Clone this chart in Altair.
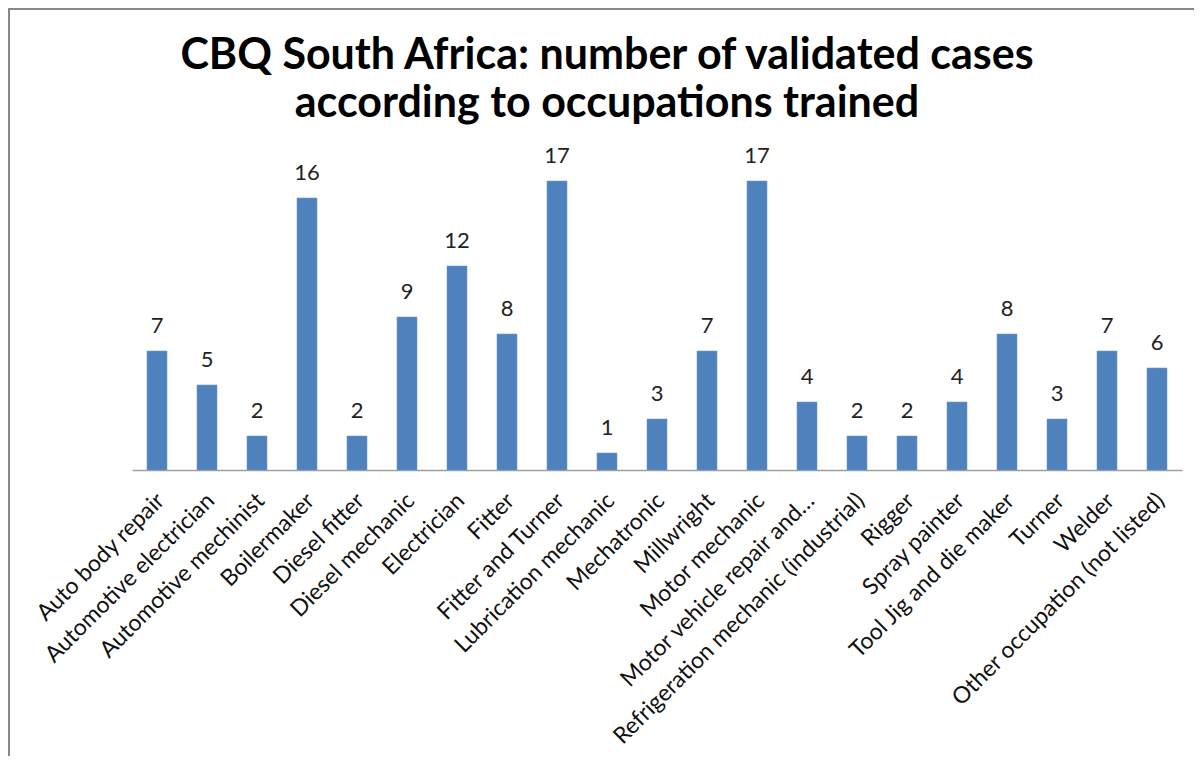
import altair as alt
import pandas as pd

occupations = [
    "Auto body repair", "Automotive electrician", "Automotive mechinist",
    "Boilermaker", "Diesel fitter", "Diesel mechanic", "Electrician", "Fitter",
    "Fitter and Turner", "Lubrication mechanic", "Mechatronic", "Millwright",
    "Motor mechanic", "Motor vehicle repair and…",
    "Refrigeration mechanic (industrial)", "Rigger", "Spray painter",
    "Tool Jig and die maker", "Turner", "Welder", "Other occupation (not listed)",
]
cases = [7, 5, 2, 16, 2, 9, 12, 8, 17, 1, 3, 7, 17, 4, 2, 2, 4, 8, 3, 7, 6]
title_lines = ["CBQ South Africa: number of validated  cases",
               "according to occupations trained"]

df = pd.DataFrame({"occupation": occupations, "cases": cases})

FONT = "Lato"
W, H = 1050, 340

base = alt.Chart(df).encode(
    x=alt.X("occupation:N", sort=occupations,
            scale=alt.Scale(paddingInner=0.6, paddingOuter=0.3),
            axis=alt.Axis(title=None, labelAngle=-45, labelAlign="right",
                          labelBaseline="top", labelPadding=19, labelOffset=-4,
                          ticks=False, domainColor="#a0a0a0", domainWidth=1.5,
                          labelFont=FONT, labelFontSize=23, labelColor="#111111",
                          labelLimit=0)),
    y=alt.Y("cases:Q", scale=alt.Scale(domain=[0, 20]), axis=None),
)

bars = base.mark_bar(color="#4F81BD", stroke="#6f9ad0", strokeWidth=0.6)
labels = base.mark_text(baseline="alphabetic", dy=-18, font=FONT, fontSize=22,
                        color="#222222").encode(text="cases:Q")

border_df = pd.DataFrame({"k": [0]})
top_border = alt.Chart(border_df).mark_rule(color="#888888", strokeWidth=2).encode(
    x=alt.value(-124), x2=alt.value(W + 20), y=alt.value(-121))
left_border = alt.Chart(border_df).mark_rule(color="#888888", strokeWidth=2).encode(
    x=alt.value(-123), y=alt.value(-122), y2=alt.value(H + 300))

chart = alt.layer(top_border, left_border, bars, labels).properties(
    width=W, height=H,
    autosize=alt.AutoSizeParams(type="none"),
    padding={"left": 124, "top": 122, "right": 12, "bottom": 286},
    title=alt.TitleParams(title_lines, anchor="middle", frame="group", dx=-50,
                          font=FONT, fontSize=43, fontWeight="bold",
                          color="#000000", lineHeight=48, offset=-119),
).configure_view(stroke=None)

chart.save("out.html", embed_options={"renderer": "svg", "actions": False})
